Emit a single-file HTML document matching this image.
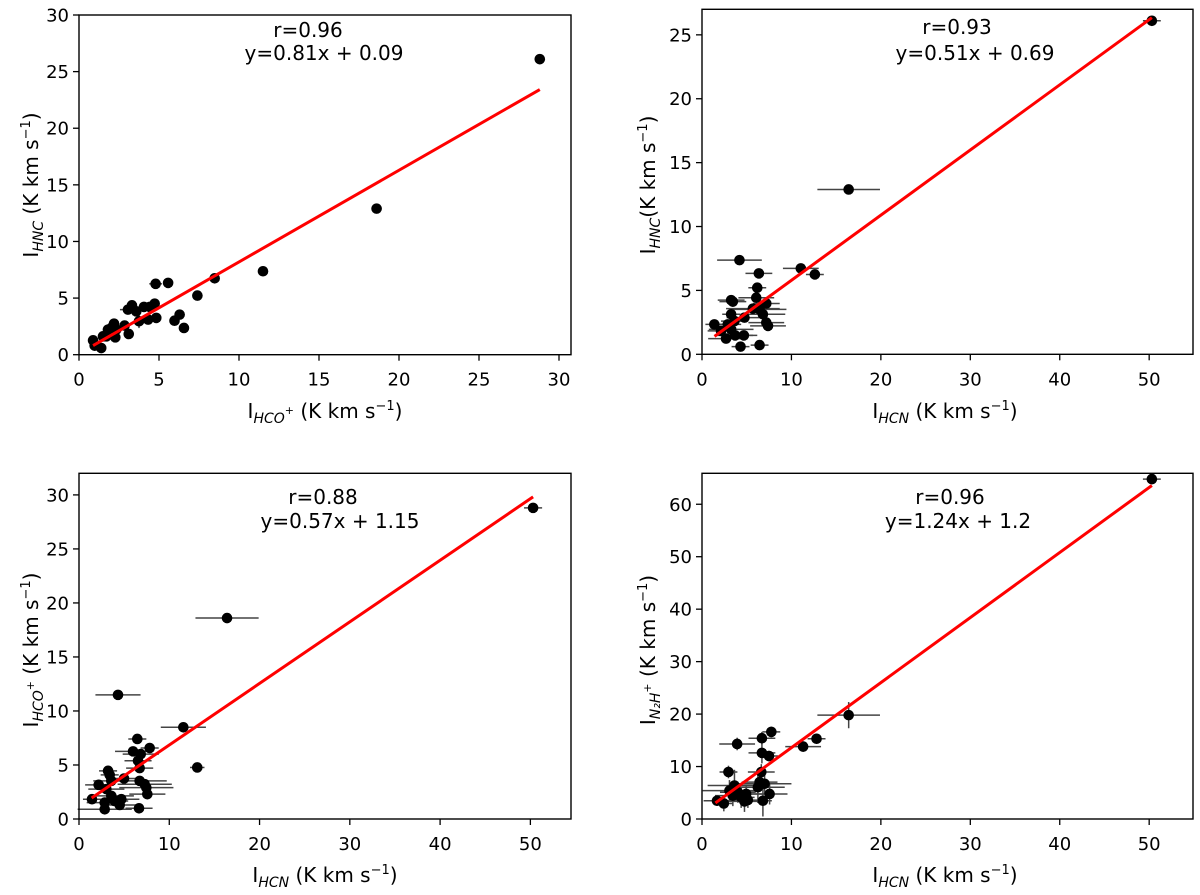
<!DOCTYPE html>
<html><head><meta charset="utf-8"><style>
html,body{margin:0;padding:0;background:#fff;}
svg{display:block;font-family:"DejaVu Sans","Liberation Sans",sans-serif;}
</style></head><body>
<svg id="fig" width="1200" height="895" viewBox="0 0 1200 895"></svg>
<script>
// ---- Panel 1: HCO+ vs HNC ----
const p1x=[0.88,0.98,1.39,1.5,1.71,1.81,2.02,2.19,2.27,2.33,2.85,3.11,3.06,3.31,3.58,3.75,4.06,4.32,4.42,4.73,4.83,4.79,5.57,5.97,6.29,6.56,7.4,8.48,11.5,18.6,28.8];
const p1y=[1.27,0.8,0.59,1.62,1.62,2.21,2.36,2.74,1.53,2.21,2.57,1.83,3.98,4.36,3.83,2.95,4.22,3.1,4.22,4.51,3.25,6.26,6.34,3.0,3.54,2.36,5.22,6.75,7.37,12.9,26.1];
const p1xe=[0.1,0.1,0.1,0.1,0.1,0.1,0.1,0.1,0.1,0.1,0.1,0.1,0.5,0.1,0.1,0.1,0.1,0.3,0.1,0.1,0.2,0.4,0.1,0.1,0.1,0.1,0.1,0.1,0.3,0.2,0.2];
const p1ye=[0.1,0.1,0.1,0.1,0.1,0.1,0.1,0.1,0.1,0.1,0.1,0.1,0.1,0.1,0.1,0.6,0.1,0.1,0.1,0.1,0.4,0.1,0.1,0.1,0.1,0.1,0.1,0.1,0.2,0.2,0.2];
// ---- Panel 2: HCN vs HNC ----
const p2x=[4.19,6.36,6.18,3.26,3.45,6.07,7.19,5.69,6.44,6.81,3.26,3.63,4.75,1.38,2.88,2.13,3.26,2.69,3.71,4.68,4.31,6.44,7.19,7.38,11.05,12.62,16.4,50.3];
const p2y=[7.37,6.33,5.21,4.24,4.12,4.43,3.98,3.57,3.52,3.13,3.13,2.6,2.87,2.34,2.34,1.83,1.95,1.23,1.48,1.48,0.6,0.72,2.48,2.22,6.72,6.25,12.9,26.1];
const p2xe=[2.5,1.5,1,1.5,1.5,2,1.5,3,3,2.5,1,1.5,2,1,1.5,1.5,2.5,2,2,1.5,1,1,2,2,2,1,3.5,1];
// ---- Panel 3: HCN vs HCO+ ----
const p3x=[4.32,11.56,13.1,6.46,7.83,5.99,6.84,6.54,6.72,3.22,3.4,3.58,4.99,6.72,7.28,7.46,7.57,2.18,3.03,1.44,3.58,4.69,3.95,2.85,4.51,2.85,6.65,16.4,50.3];
const p3y=[11.49,8.49,4.77,7.41,6.57,6.26,6.01,5.39,4.71,4.46,4.09,3.53,3.75,3.53,3.22,2.91,2.3,3.16,2.76,1.83,2.14,1.83,1.67,1.52,1.3,0.9,0.99,18.6,28.8];
const p3xe=[2.5,2.5,0.8,1,1,2,2,1.5,1.5,1,1,2,2,3,3,3,2,1.5,2,1,2.5,2,1.5,2,2,3,1.5,3.5,1];
// ---- Panel 4: HCN vs N2H+ ----
const p4x=[7.75,6.7,3.93,6.7,7.49,2.96,6.63,6.44,7.0,6.25,3.63,3.07,4.01,4.94,3.45,4.38,5.13,4.75,7.56,6.81,1.68,2.44,11.31,12.81,16.4,50.3];
const p4y=[16.6,15.4,14.3,12.6,12.0,8.96,8.96,7.03,6.71,6.06,6.38,5.42,5.09,4.77,4.45,4.12,3.61,3.35,4.77,3.48,3.48,2.96,13.8,15.3,19.8,64.8];
const p4xe=[1,1.5,2,1.5,1,1,1.5,2,3,3,3,3,2,2,2,1.5,2,2,2,1,1.5,1,2,1,3.5,1];
const p4ye=[1,1.2,1.2,2,1,1.2,1.5,1.5,2,3,3,2,2,1.5,2,2,1.5,2,2,3,1,1.5,1,1,2.5,1];

const panels=[
 {id:'hco-hnc',L:79,T:15,R:571,B:354.7,xmin:0,xmax:30.75,ymin:0,ymax:30,xt:[0,5,10,15,20,25,30],yt:[0,5,10,15,20,25,30],
  X:p1x,Y:p1y,XE:p1xe,YE:p1ye,m:0.81,b:0.09,lx:[0.88,28.8],
  r:'r=0.96',eq:'y=0.81x + 0.09',rx:308,ry:37,ex:324,ey:60,
  xl:['I','HCO','+'],yl:['I','HNC',''],ylsp:' ',xlc:325,xly:418,ylx:38,ylc:185},
 {id:'hcn-hnc',L:702,T:9.3,R:1193,B:354.3,xmin:0,xmax:54.9,ymin:0,ymax:27,xt:[0,10,20,30,40,50],yt:[0,5,10,15,20,25],
  X:p2x,Y:p2y,XE:p2xe,YE:null,m:0.51,b:0.69,lx:[1.4,50.3],
  r:'r=0.93',eq:'y=0.51x + 0.69',rx:957,ry:34,ex:975,ey:60,
  xl:['I','HCN',''],yl:['I','HNC',''],ylsp:'',xlc:945,xly:418,ylx:655,ylc:185},
 {id:'hcn-hcoplus',L:79,T:473.3,R:571,B:819,xmin:0,xmax:54.5,ymin:0,ymax:32,xt:[0,10,20,30,40,50],yt:[0,5,10,15,20,25,30],
  X:p3x,Y:p3y,XE:p3xe,YE:null,m:0.57,b:1.15,lx:[1.4,50.3],
  r:'r=0.88',eq:'y=0.57x + 1.15',rx:323,ry:504,ex:340,ey:528,
  xl:['I','HCN',''],yl:['I','HCO','+'],ylsp:' ',xlc:325,xly:882,ylx:38,ylc:650},
 {id:'hcn-n2hplus',L:702,T:473.3,R:1193,B:819,xmin:0,xmax:54.9,ymin:0,ymax:65.9,xt:[0,10,20,30,40,50],yt:[0,10,20,30,40,50,60],
  X:p4x,Y:p4y,XE:p4xe,YE:p4ye,m:1.24,b:1.2,lx:[1.5,50.3],
  r:'r=0.96',eq:'y=1.24x + 1.2',rx:950,ry:504,ex:958,ey:528,
  xl:['I','HCN',''],yl:['I','N₂H','+'],ylsp:' ',xlc:945,xly:882,ylx:655,ylc:650}
];
const NS='http://www.w3.org/2000/svg';
const svg=document.getElementById('fig');
function mk(tag,attrs,parent){const e=document.createElementNS(NS,tag);for(const k in attrs)e.setAttribute(k,attrs[k]);parent.appendChild(e);return e;}
function label(parent,parts,sp){
  const t=parent;
  const a=document.createElementNS(NS,'tspan');a.textContent=parts[0];t.appendChild(a);
  const s=document.createElementNS(NS,'tspan');s.textContent=parts[1];s.setAttribute('font-style','italic');s.setAttribute('font-size','14');s.setAttribute('dy','5');t.appendChild(s);
  let dyBack=-5;
  if(parts[2]){const p=document.createElementNS(NS,'tspan');p.textContent=parts[2];p.setAttribute('font-size','11');p.setAttribute('dy','-9');t.appendChild(p);dyBack=4;}
  const r=document.createElementNS(NS,'tspan');r.textContent=sp+'(K km s';r.setAttribute('dy',String(dyBack));t.appendChild(r);
  const e=document.createElementNS(NS,'tspan');e.textContent='−1';e.setAttribute('font-size','13');e.setAttribute('dy','-8');t.appendChild(e);
  const c=document.createElementNS(NS,'tspan');c.textContent=')';c.setAttribute('dy','8');t.appendChild(c);
}
panels.forEach(P=>{
  const g=mk('g',{},svg);
  
  
  const sx=v=>P.L+(v-P.xmin)/(P.xmax-P.xmin)*(P.R-P.L);
  const sy=v=>P.B-(v-P.ymin)/(P.ymax-P.ymin)*(P.B-P.T);
  P.xt.forEach(v=>{
    const x=sx(v);
    const tk=mk('line',{x1:x,x2:x,y1:P.B,y2:P.B+6,stroke:'#000','stroke-width':1.3},g);
    
    
    const tl=mk('text',{x:x,y:P.B+31,'text-anchor':'middle','font-size':18},g);tl.textContent=v;
    
    
  });
  P.yt.forEach(v=>{
    const y=sy(v);
    const tk=mk('line',{x1:P.L-6,x2:P.L,y1:y,y2:y,stroke:'#000','stroke-width':1.3},g);
    
    
    const tl=mk('text',{x:P.L-10,y:y+6.5,'text-anchor':'end','font-size':18},g);tl.textContent=v;
    
    
  });
  P.X.forEach((xv,i)=>{
    const cx=sx(xv),cy=sy(P.Y[i]);
    const xe=P.XE[i];
    const eb=mk('line',{x1:sx(xv-xe),x2:sx(xv+xe),y1:cy,y2:cy,stroke:'#444','stroke-width':1.5},g);
    
    
    if(P.YE){const ye=P.YE[i];
      const ey=mk('line',{x1:cx,x2:cx,y1:sy(P.Y[i]-ye),y2:sy(P.Y[i]+ye),stroke:'#444','stroke-width':1.5},g);
      
      
    }
  });
  P.X.forEach((xv,i)=>{
    const c=mk('circle',{cx:sx(xv),cy:sy(P.Y[i]),r:5.3,fill:'#000'},g);
    
    
  });
  const fl=mk('line',{x1:sx(P.lx[0]),y1:sy(P.m*P.lx[0]+P.b),x2:sx(P.lx[1]),y2:sy(P.m*P.lx[1]+P.b),stroke:'#ff0000','stroke-width':3},g);
  
  
  const fr=mk('rect',{x:P.L,y:P.T,width:P.R-P.L,height:P.B-P.T,fill:'none',stroke:'#000','stroke-width':1.4},g);
  
  
  const ra=mk('text',{x:P.rx,y:P.ry,'text-anchor':'middle','font-size':20},g);ra.textContent=P.r;
  
  
  const ea=mk('text',{x:P.ex,y:P.ey,'text-anchor':'middle','font-size':20},g);ea.textContent=P.eq;
  
  
  const xt=mk('text',{x:P.xlc,y:P.xly,'text-anchor':'middle','font-size':20},g);label(xt,P.xl,' ');
  
  
  const yt=mk('text',{x:0,y:0,'text-anchor':'middle','font-size':20,transform:`translate(${P.ylx},${P.ylc}) rotate(-90)`},g);label(yt,P.yl,P.ylsp);
  
  
});
</script>
</body></html>
